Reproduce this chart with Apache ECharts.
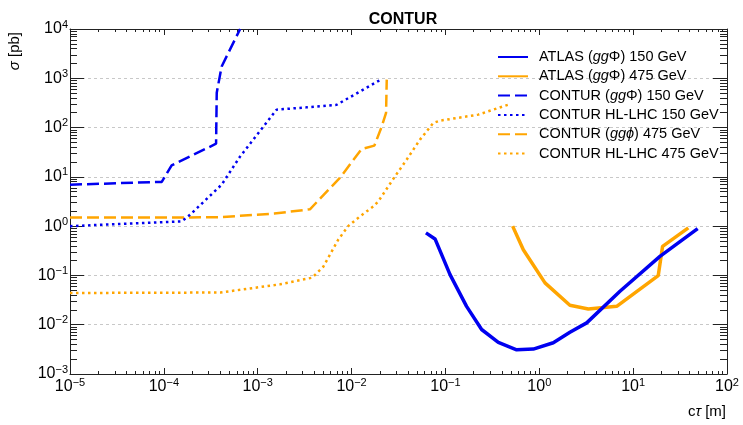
<!DOCTYPE html>
<html>
<head>
<meta charset="utf-8">
<script src="https://cdn.jsdelivr.net/npm/echarts@6/dist/echarts.min.js"></script>
<style>
  html, body { margin: 0; padding: 0; background: #fff; }
  #main { width: 743px; height: 425px; }
</style>
</head>
<body>
<div id="main"></div>
<script>
// c*tau [m] vs sigma [pb]
var atlas150 = [[0.062, 0.73], [0.0775, 0.55], [0.112, 0.104], [0.168, 0.0236], [0.243, 0.008], [0.366, 0.0044], [0.574, 0.0031], [0.863, 0.0032], [1.41, 0.0043], [2.12, 0.0070], [3.2, 0.0109], [7.24, 0.0477], [19.3, 0.244], [48.7, 0.89]];
var atlas475 = [[0.52, 1.0], [0.676, 0.333], [1.15, 0.0705], [2.12, 0.0248], [3.33, 0.0209], [6.68, 0.0236], [18.5, 0.099], [20.6, 0.389], [38.7, 0.92]];
var contur150 = [[1e-5, 6.95], [9.5e-5, 7.9], [1.21e-4, 17.1], [3.6e-4, 47], [3.66e-4, 510], [4.13e-4, 1740], [6.5e-4, 10000]];
var hllhc150 = [[1e-5, 1.0], [1.55e-4, 1.25], [1.9e-4, 1.7], [4.13e-4, 6.95], [6.5e-4, 26], [1.59e-3, 231], [3.3e-3, 257], [6.93e-3, 290], [0.0201, 920]];
var contur475 = [[1e-5, 1.5], [1.5e-4, 1.5], [4e-4, 1.52], [1.5e-3, 1.8], [3.6e-3, 2.2], [7.5e-3, 9.5], [0.0128, 36.8], [0.0175, 43], [0.021, 106], [0.0233, 198], [0.0237, 940]];
var hllhc475 = [[1e-5, 0.044], [4e-4, 0.045], [1.73e-3, 0.066], [3.8e-3, 0.09], [5e-3, 0.15], [7.2e-3, 0.53], [9.2e-3, 1.0], [0.0123, 1.58], [0.017, 2.5], [0.0193, 3.2], [0.029, 10.2], [0.0386, 22.3], [0.0536, 57], [0.0743, 124], [0.0875, 138], [0.224, 183], [0.468, 292]];

var seriesNames = ['ATLAS (ggΦ) 150 GeV', 'ATLAS (ggΦ) 475 GeV', 'CONTUR (ggΦ) 150 GeV', 'CONTUR HL-LHC 150 GeV', 'CONTUR (ggϕ) 475 GeV', 'CONTUR HL-LHC 475 GeV'];
var legendRich = [
  '{n|ATLAS (}{i|gg}{n|Φ) 150 GeV}',
  '{n|ATLAS (}{i|gg}{n|Φ) 475 GeV}',
  '{n|CONTUR (}{i|gg}{n|Φ) 150 GeV}',
  '{n|CONTUR HL-LHC 150 GeV}',
  '{n|CONTUR (}{i|ggϕ}{n|) 475 GeV}',
  '{n|CONTUR HL-LHC 475 GeV}'
];

var xMajor = [1e-5, 1e-4, 1e-3, 1e-2, 1e-1, 1, 10, 100];
var yMajor = [1e-3, 1e-2, 1e-1, 1, 10, 100, 1000, 10000];

function minors(lo, hi) {
  var out = [];
  for (var e = lo; e < hi; e++) {
    for (var k = 2; k <= 9; k++) out.push(+(k * Math.pow(10, e)).toPrecision(3));
  }
  return out;
}
var xMinor = minors(-5, 2);
var yMinor = minors(-3, 4);

var BLUE = '#0000f0';
var ORANGE = '#ffa500';
var FONT = 'Liberation Sans, Arial, sans-serif';

function expLabel(v) {
  var e = Math.round(Math.log10(v));
  return '{b|10}{s|' + (e < 0 ? '\u2212' + (-e) : e) + '}';
}
var labelRich = {
  b: { fontSize: 16, fontFamily: FONT, color: '#000' },
  s: { fontSize: 11, fontFamily: FONT, color: '#000', padding: [0, 0, 9, 0] }
};

function xAx(pos, len, vals, showLine, showLabel) {
  return {
    type: 'log', logBase: 10, min: 1e-5, max: 100, position: pos,
    axisLine: { show: showLine, onZero: false, lineStyle: { color: '#222', width: 1 } },
    axisTick: { show: true, inside: true, length: len, customValues: vals, lineStyle: { color: '#222' } },
    axisLabel: { show: showLabel, customValues: xMajor, margin: 3, formatter: expLabel, rich: labelRich },
    splitLine: { show: false }
  };
}
function yAx(pos, len, vals, showLine, showLabel, grid) {
  return {
    type: 'log', logBase: 10, min: 1e-3, max: 1e4, position: pos,
    axisLine: { show: showLine, onZero: false, lineStyle: { color: '#222', width: 1 } },
    axisTick: { show: true, inside: true, length: len, customValues: vals, lineStyle: { color: '#222' } },
    axisLabel: { show: showLabel, customValues: yMajor, margin: 2, formatter: expLabel, rich: labelRich },
    splitLine: { show: grid, lineStyle: { color: '#c8c8c8', type: [3, 3], width: 1 } }
  };
}

function mk(i, data, color, width, type) {
  return {
    name: seriesNames[i], type: 'line', data: data, symbol: 'none',
    xAxisIndex: 0, yAxisIndex: 0,
    lineStyle: { color: color, width: width, type: type, cap: 'butt' },
    itemStyle: { color: color },
    z: 10 - i, animation: false
  };
}

var chart = echarts.init(document.getElementById('main'), null, { renderer: 'canvas' });
chart.setOption({
  backgroundColor: '#fff',
  animation: false,
  title: {
    text: 'CONTUR', left: 398, top: 7, textAlign: 'center',
    textStyle: { fontSize: 16, fontWeight: 'bold', fontFamily: FONT, color: '#000' }
  },
  grid: { left: 70, right: 16, top: 29, bottom: 51, containLabel: false },
  legend: {
    orient: 'vertical', left: 497, top: 49.5, padding: 0,
    itemWidth: 30, itemHeight: 14, itemGap: 4.3,
    data: seriesNames,
    itemStyle: { opacity: 0 },
    formatter: function (name) { return legendRich[seriesNames.indexOf(name)]; },
    textStyle: {
      fontSize: 14.5, fontFamily: FONT, color: '#000', padding: [0, 0, 0, 6],
      rich: {
        n: { fontSize: 14.5, fontFamily: FONT, color: '#000' },
        i: { fontSize: 14.5, fontFamily: FONT, color: '#000', fontStyle: 'italic' }
      }
    }
  },
  xAxis: [
    xAx('bottom', 6, xMajor, true, true),
    xAx('bottom', 3, xMinor, false, false),
    xAx('top', 6, xMajor, true, false),
    xAx('top', 3, xMinor, false, false)
  ],
  yAxis: [
    yAx('left', 14, yMajor, true, true, true),
    yAx('left', 7, yMinor, false, false, false),
    yAx('right', 14, yMajor, true, false, false),
    yAx('right', 7, yMinor, false, false, false)
  ],
  graphic: [
    {
      type: 'text', x: 15, y: 32, rotation: Math.PI / 2, z: 100,
      style: {
        text: '{i|σ} [pb]', fill: '#000', align: 'right', verticalAlign: 'middle',
        font: '15px ' + FONT,
        rich: { i: { fontStyle: 'italic', fontSize: 15, fontFamily: FONT } }
      }
    },
    {
      type: 'text', x: 726, y: 412, z: 100,
      style: {
        text: 'c{i|τ} [m]', fill: '#000', align: 'right', verticalAlign: 'middle',
        font: '15px ' + FONT,
        rich: { i: { fontStyle: 'italic', fontSize: 15, fontFamily: FONT } }
      }
    }
  ],
  series: [
    mk(0, atlas150, BLUE, 3.5, 'solid'),
    mk(1, atlas475, ORANGE, 3.5, 'solid'),
    mk(2, contur150, BLUE, 2.5, [12, 5]),
    mk(3, hllhc150, BLUE, 2.5, [2.5, 3.5]),
    mk(4, contur475, ORANGE, 2.5, [12, 5]),
    mk(5, hllhc475, ORANGE, 2.5, [2.5, 3.5])
  ]
});
</script>
</body>
</html>
